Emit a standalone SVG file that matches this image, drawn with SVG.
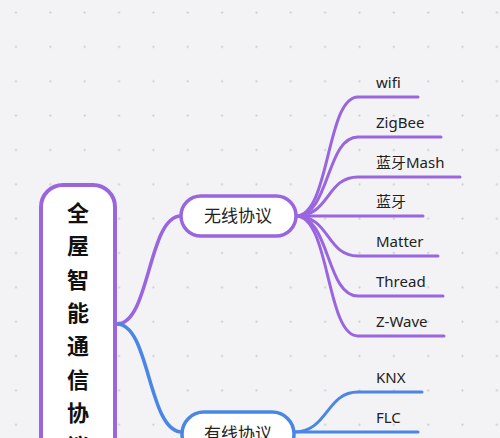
<svg xmlns="http://www.w3.org/2000/svg" width="500" height="438" viewBox="0 0 500 438">
<defs>
<pattern id="dots" x="14.5" y="11" width="34.35" height="34.35" patternUnits="userSpaceOnUse">
<circle cx="1.5" cy="1.5" r="1.1" fill="#c9c9ce"/>
</pattern>
<style>
.bg{fill:#f3f3f6}
.pl{fill:none;stroke:#9a66e0;stroke-width:3;stroke-linecap:round}
.bl{fill:none;stroke:#4a86e6;stroke-width:3;stroke-linecap:round}
.main{fill:none;stroke-width:3.5;stroke-linecap:round}
.root{fill:#ffffff;stroke:#9a66e0;stroke-width:4}
.n1{fill:#ffffff;stroke:#9a66e0;stroke-width:3.5}
.n2{fill:#ffffff;stroke:#4a86e6;stroke-width:3.5}
.rt{font-family:"Noto Sans CJK SC","Noto Sans",sans-serif;font-size:22px;font-weight:bold;fill:#111;text-anchor:middle}
.nt{font-family:"Noto Sans CJK SC","Noto Sans",sans-serif;font-size:17px;fill:#222;text-anchor:middle}
.lt{font-family:"Noto Sans","Noto Sans CJK SC",sans-serif;font-size:15px;fill:#222}
</style>
</defs>
<rect class="bg" x="0" y="0" width="500" height="438"/>
<rect x="0" y="0" width="500" height="438" fill="url(#dots)"/>
<g id="connectors">
<path class="main" stroke="#9a66e0" d="M117,324 C150,324 148,216 181,216"/>
<path class="main" stroke="#4a86e6" d="M117,324 C150,324 148,432 182,432"/>
<path class="pl" d="M296,216 C330,216 326,97 358,97 H418"/>
<path class="pl" d="M296,216 C330,216 326,137 358,137 H441"/>
<path class="pl" d="M296,216 C330,216 326,177 358,177 H460"/>
<path class="pl" d="M296,216 H423"/>
<path class="pl" d="M296,216 C330,216 326,256 358,256 H438"/>
<path class="pl" d="M296,216 C330,216 326,296 358,296 H443"/>
<path class="pl" d="M296,216 C330,216 326,336 358,336 H444"/>
<path class="bl" d="M294,432 C328,432 326,392 358,392 H422"/>
<path class="bl" d="M294,432 H418"/>
</g>
<g id="root">
<rect class="root" x="41" y="185" width="74" height="290" rx="22"/>
<text class="rt" x="78" y="221">全</text>
<text class="rt" x="78" y="254">屋</text>
<text class="rt" x="78" y="288">智</text>
<text class="rt" x="78" y="321">能</text>
<text class="rt" x="78" y="354">通</text>
<text class="rt" x="78" y="388">信</text>
<text class="rt" x="78" y="421">协</text>
<text class="rt" x="78" y="454">议</text>
</g>
<g id="wireless">
<rect class="n1" x="181" y="196" width="115" height="40" rx="20"/>
<text class="nt" x="238" y="222">无线协议</text>
</g>
<g id="wired">
<rect class="n2" x="182" y="412" width="112" height="44" rx="22"/>
<text class="nt" x="238" y="440">有线协议</text>
</g>
<g id="wifi"><text class="lt" x="376" y="88">wifi</text></g>
<g id="zigbee"><text class="lt" x="376" y="128">ZigBee</text></g>
<g id="btmesh"><text class="lt" x="376" y="168">蓝牙Mash</text></g>
<g id="bt"><text class="lt" x="376" y="207">蓝牙</text></g>
<g id="matter"><text class="lt" x="376" y="247">Matter</text></g>
<g id="thread"><text class="lt" x="376" y="287">Thread</text></g>
<g id="zwave"><text class="lt" x="376" y="327">Z-Wave</text></g>
<g id="knx"><text class="lt" x="376" y="383">KNX</text></g>
<g id="flc"><text class="lt" x="376" y="423">FLC</text></g>
</svg>
